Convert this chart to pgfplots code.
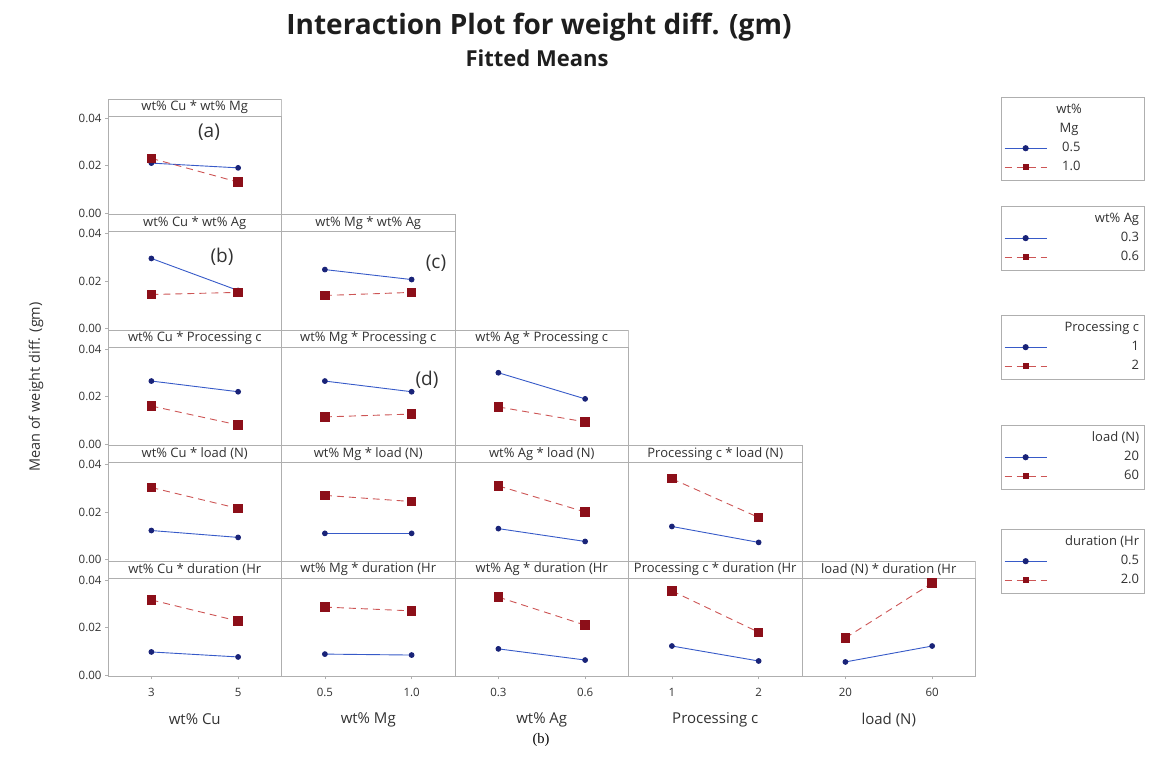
\documentclass[border=0pt]{standalone}
\usepackage{pgfplots}
\pgfplotsset{compat=1.18}
\usepackage{fontspec}
\setmainfont{Open Sans}
\newfontfamily\capfont{Liberation Serif}
\definecolor{bl}{RGB}{55,90,200}
\definecolor{blm}{RGB}{25,35,120}
\definecolor{rd}{RGB}{205,85,85}
\definecolor{rdm}{RGB}{140,15,25}
\definecolor{frame}{RGB}{175,175,175}
\definecolor{txt}{RGB}{50,50,50}
\newcommand{\LL}[1]{\makebox[90bp][l]{#1}}
\newcommand{\LR}[1]{\makebox[90bp][r]{#1}}
\pgfplotsset{
  panel/.style={scale only axis, width=173.5bp, height=115.5bp,
    xmin=-0.5, xmax=1.5, ymin=-0.00063, ymax=0.048, anchor=south west,
    axis line style={draw=frame, line width=0.6bp},
    xtick=\empty, ytick=\empty, scaled y ticks=false,
    tick style={draw=frame, line width=0.6bp}, major tick length=3bp, tick align=outside,
    ticklabel style={font=\fontsize{11.5bp}{13bp}\selectfont, text=txt},
    /pgf/number format/assume math mode=true},
  ycol/.style={ytick={0,0.02,0.04}, ytick pos=left,
    yticklabel style={/pgf/number format/fixed, /pgf/number format/fixed zerofill, /pgf/number format/precision=2}},
  xrow/.style 2 args={xtick={0,1}, xticklabels={#1}, xtick pos=left, xlabel={#2},
    xticklabel style={yshift=-5.5bp},
    xlabel style={at={(axis description cs:0.5,0)}, anchor=center, yshift=-43bp,
      font=\fontsize{15bp}{17bp}\selectfont, text=txt}},
  leg/.style={legend style={at={(5.147,#1)}, anchor=north west, draw=frame, fill=white,
      font=\fontsize{13bp}{15bp}\selectfont, text=txt, inner xsep=3bp, inner ysep=5bp,
      row sep=3bp, nodes={inner sep=2bp, text height=9.5bp, text depth=2.5bp}},
    legend cell align=left,
    legend image code/.code={\draw[mark repeat=2, mark phase=2, ##1, mark size=2.6bp] plot coordinates {(0bp,0bp) (21bp,0bp) (42bp,0bp)};}},
  blueS/.style={color=bl, line width=0.9bp, mark=*, mark size=2.4bp,
    mark options={fill=blm, draw=blm, solid}},
  redS/.style={color=rd, line width=0.9bp, dash pattern=on 7bp off 5bp, mark=square*, mark size=4.2bp,
    mark options={fill=rdm, draw=rdm, solid}},
}
\newcommand{\Panel}[7]{%
\begin{axis}[panel, at={(#1bp,#2bp)}, #4]
#7
\addplot[blueS] coordinates {#5};
\addplot[redS] coordinates {#6};
\draw[draw=frame, line width=0.6bp, fill=white] (rel axis cs:0,1) rectangle (rel axis cs:1,0.853);
\node[font=\fontsize{13bp}{15bp}\selectfont, text=txt] at (rel axis cs:0.5,0.9265) {#3};
\end{axis}}
\begin{document}
\begin{tikzpicture}[x=1bp,y=1bp]
\path[use as bounding box] (0,0) rectangle (1153,757);
% titles
\node[anchor=base, font=\fontsize{28bp}{32bp}\selectfont\bfseries, text={rgb,255:red,30;green,30;blue,30}] at (539,722) {Interaction Plot for weight diff. (gm)};
\node[anchor=base, font=\fontsize{22bp}{26bp}\selectfont\bfseries, text={rgb,255:red,30;green,30;blue,30}] at (537,690) {Fitted Means};
\node[rotate=90, font=\fontsize{14.5bp}{17bp}\selectfont, text=txt] at (36,370) {Mean of weight diff. (gm)};
% row 0
\Panel{108}{542.5}{wt\% Cu * wt\% Mg}{ycol, leg=1.017, legend entries={{\LL{\makebox[40bp]{wt\%}}},{\LL{\makebox[40bp]{Mg}}},{\LL{\hspace{13bp}0.5}},{\LL{\hspace{13bp}1.0}}}}{(0,0.021)(1,0.019)}{(0,0.023)(1,0.013)}{\addlegendimage{empty legend}\addlegendimage{empty legend}}
% row 1
\Panel{108}{427}{wt\% Cu * wt\% Ag}{ycol, leg=1.074, legend entries={{\LR{wt\% Ag}},{\LR{0.3}},{\LR{0.6}}}}{(0,0.0295)(1,0.016)}{(0,0.0143)(1,0.0152)}{\addlegendimage{empty legend}}
\Panel{281.5}{427}{wt\% Mg * wt\% Ag}{}{(0,0.0248)(1,0.0206)}{(0,0.0139)(1,0.0152)}{}
% row 2
\Panel{108}{311.5}{wt\% Cu * Processing c}{ycol, leg=1.13, legend entries={{\LR{Processing c}},{\LR{1}},{\LR{2}}}}{(0,0.0265)(1,0.022)}{(0,0.016)(1,0.008)}{\addlegendimage{empty legend}}
\Panel{281.5}{311.5}{wt\% Mg * Processing c}{}{(0,0.0265)(1,0.022)}{(0,0.0114)(1,0.0126)}{}
\Panel{455}{311.5}{wt\% Ag * Processing c}{}{(0,0.030)(1,0.019)}{(0,0.0156)(1,0.0093)}{}
% row 3
\Panel{108}{196}{wt\% Cu * load (N)}{ycol, leg=1.177, legend entries={{\LR{load (N)}},{\LR{20}},{\LR{60}}}}{(0,0.0122)(1,0.0093)}{(0,0.0303)(1,0.0215)}{\addlegendimage{empty legend}}
\Panel{281.5}{196}{wt\% Mg * load (N)}{}{(0,0.011)(1,0.011)}{(0,0.027)(1,0.0244)}{}
\Panel{455}{196}{wt\% Ag * load (N)}{}{(0,0.013)(1,0.0076)}{(0,0.031)(1,0.020)}{}
\Panel{628.5}{196}{Processing c * load (N)}{}{(0,0.0139)(1,0.0072)}{(0,0.034)(1,0.0177)}{}
% row 4
\Panel{108}{80.5}{wt\% Cu * duration (Hr}{ycol, xrow={3,5}{wt\% Cu}, leg=1.277, legend entries={{\LR{duration (Hr}},{\LR{0.5}},{\LR{2.0}}}}{(0,0.0097)(1,0.0076)}{(0,0.0316)(1,0.0227)}{\addlegendimage{empty legend}}
\Panel{281.5}{80.5}{wt\% Mg * duration (Hr}{xrow={0.5,1.0}{wt\% Mg}}{(0,0.0088)(1,0.0084)}{(0,0.0286)(1,0.027)}{}
\Panel{455}{80.5}{wt\% Ag * duration (Hr}{xrow={0.3,0.6}{wt\% Ag}}{(0,0.011)(1,0.0063)}{(0,0.0328)(1,0.021)}{}
\Panel{628.5}{80.5}{Processing c * duration (Hr}{xrow={1,2}{Processing c}}{(0,0.0122)(1,0.0059)}{(0,0.0354)(1,0.018)}{}
\Panel{802}{80.5}{load (N) * duration (Hr}{xrow={20,60}{load (N)}}{(0,0.0055)(1,0.0122)}{(0,0.0156)(1,0.0387)}{}
% annotations
\node[font=\fontsize{19bp}{22bp}\selectfont, text=txt] at (209,625) {(a)};
\node[font=\fontsize{19bp}{22bp}\selectfont, text=txt] at (222,500) {(b)};
\node[font=\fontsize{19bp}{22bp}\selectfont, text=txt] at (436,494) {(c)};
\node[font=\fontsize{19bp}{22bp}\selectfont, text=txt] at (427,377) {(d)};
\node[font=\capfont\fontsize{14.5bp}{17bp}\selectfont] at (541,17) {(b)};
\end{tikzpicture}
\end{document}
